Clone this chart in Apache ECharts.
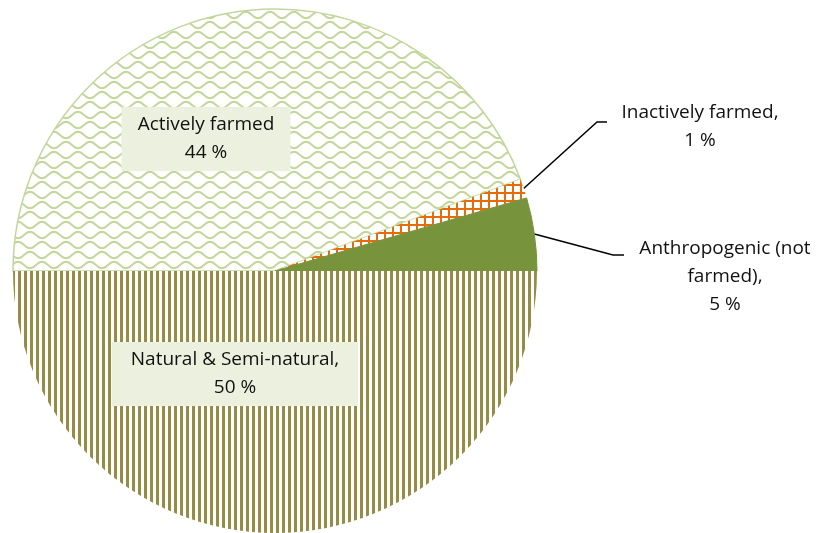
<!DOCTYPE html>
<html>
<head>
<meta charset="utf-8">
<script src="https://cdn.jsdelivr.net/npm/echarts@6/dist/echarts.min.js"></script>
<style>
html, body { margin: 0; padding: 0; background: #fff; }
#chart { width: 824px; height: 533px; }
</style>
</head>
<body>
<div id="chart"></div>
<script>
// land use shares (angles of the slice edges)
const landUse = ['Actively farmed', 'Inactively farmed,', 'Anthropogenic (not\nfarmed),', 'Natural & Semi-natural,'];
const shares = [44.3, 1.2, 4.5, 50];

// small canvas tiles used as fill patterns (like the excel hatch fills)
const makeTile = (w, h, draw) => {
   const c = document.createElement('canvas');
   c.width = w;
   c.height = h;
   const ctx = c.getContext('2d');
   ctx.fillStyle = '#fff';
   ctx.fillRect(0, 0, w, h);
   draw(ctx);
   return c;
};
const waveTile = makeTile(24, 20, (ctx) => {
   ctx.strokeStyle = '#C3D69B';
   ctx.lineWidth = 2;
   [[5, 0], [15, Math.PI]].forEach(([y0, ph]) => {
      ctx.beginPath();
      for (let x = -2; x <= 26; x++) {
         const y = y0 + 3.2 * Math.sin((x / 24) * 2 * Math.PI + ph);
         if (x === -2) ctx.moveTo(x, y); else ctx.lineTo(x, y);
      }
      ctx.stroke();
   });
});
const gridTile = makeTile(8, 8, (ctx) => {
   ctx.fillStyle = '#E46C0A';
   ctx.fillRect(0, 0, 2, 8);
   ctx.fillRect(0, 0, 8, 2);
});
const stripeTile = makeTile(6, 4, (ctx) => {
   ctx.fillStyle = '#948A54';
   ctx.fillRect(0, 0, 3, 4);
});

const chart = echarts.init(document.getElementById('chart'));

const insideLabel = {
   position: 'inside',
   backgroundColor: '#EBF1DE',
   padding: [4, 8],
};

const option = {
   animation: false,
   backgroundColor: '#fff',
   series: [
      {
         type: 'pie',
         center: [275, 271],
         radius: 262,
         startAngle: 180,
         clockwise: true,
         avoidLabelOverlap: false,
         emphasis: { disabled: true },
         label: {
            show: true,
            fontFamily: 'Open Sans',
            fontSize: 19,
            lineHeight: 28,
            color: '#111',
            align: 'center',
            formatter: (p) => p.name + '\n' + Math.round(p.value) + ' %',
         },
         labelLine: {
            show: true,
            smooth: false,
            lineStyle: { color: '#000', width: 1.5 },
         },
         labelLayout: (params) => {
            const p0 = params.labelLinePoints ? params.labelLinePoints[0] : null;
            switch (params.dataIndex) {
               case 0:
                  return { x: 206, y: 139, align: 'center', verticalAlign: 'middle' };
               case 1:
                  return { x: 700, y: 127, align: 'center', verticalAlign: 'middle',
                     labelLinePoints: [p0, [597, 122], [607, 122]] };
               case 2:
                  return { x: 725, y: 277, align: 'center', verticalAlign: 'middle',
                     labelLinePoints: [p0, [613, 255], [624, 255]] };
               default:
                  return { x: 235, y: 374, align: 'center', verticalAlign: 'middle' };
            }
         },
         data: [
            {
               name: landUse[0], value: shares[0],
               itemStyle: { color: { image: waveTile, repeat: 'repeat' }, borderColor: '#C3D69B', borderWidth: 1.5 },
               label: Object.assign({ width: 153 }, insideLabel),
               labelLine: { show: false },
            },
            {
               name: landUse[1], value: shares[1],
               itemStyle: { color: { image: gridTile, repeat: 'repeat' }, borderColor: '#E46C0A', borderWidth: 0 },
            },
            {
               name: landUse[2], value: shares[2],
               itemStyle: { color: '#77933C', borderColor: '#77933C', borderWidth: 1 },
            },
            {
               name: landUse[3], value: shares[3],
               itemStyle: { color: { image: stripeTile, repeat: 'repeat' }, borderColor: '#948A54', borderWidth: 0 },
               label: Object.assign({ width: 230 }, insideLabel),
               labelLine: { show: false },
            },
         ],
      },
   ],
};
chart.setOption(option);
</script>
</body>
</html>
